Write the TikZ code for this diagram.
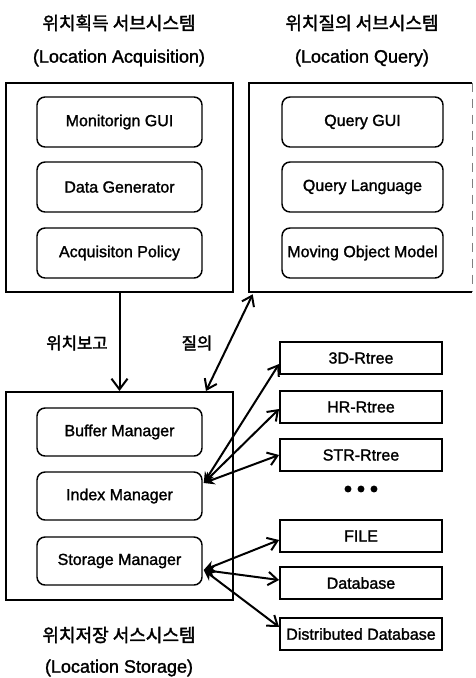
\documentclass[tikz,border=0pt]{standalone}
\usepackage{fontspec}
\setmainfont{Liberation Sans}[FakeBold=1.5]
\newfontfamily\kr{Noto Sans CJK KR}[FakeBold=2]
\usetikzlibrary{arrows.meta,calc}

\begin{document}
\begin{tikzpicture}[x=0.75pt,y=-0.75pt,
  title/.style={font=\fontsize{13.5}{16}\selectfont, inner sep=0pt},
  krtitle/.style={font=\kr\fontsize{13.5}{16}\selectfont, inner sep=0pt},
  krlabel/.style={font=\kr\fontsize{12.5}{15}\selectfont, inner sep=0pt},
  subsys/.style={draw, line width=1.5pt, minimum width=170.25pt, inner sep=0pt},
  module/.style={draw, line width=1.1pt, rounded corners=6pt, minimum width=123.75pt,
    minimum height=37.5pt, inner sep=0pt, font=\fontsize{12}{14}\selectfont},
  store/.style={draw, line width=1.4pt, minimum width=121.5pt, minimum height=24pt,
    inner sep=0pt, font=\fontsize{12}{14}\selectfont},
  flow/.style={line width=1.5pt, -{Straight Barb[length=8pt,width=12pt]}},
  link/.style={line width=1.5pt, {Stealth[length=8pt,width=8pt]}-{Straight Barb[length=7pt,width=10pt]}},
  both/.style={line width=1.5pt, {Straight Barb[length=7pt,width=10pt]}-{Straight Barb[length=7pt,width=10pt]}}]

\useasboundingbox (0,0) rectangle (475,678);

% subsystem titles
\node[krtitle] (acqKo) at (119,23) {위치획득 서브시스템};
\node[title]   (acqEn) at (119,58) {(Location Acquisition)};
\node[krtitle] (qryKo) at (362,23) {위치질의 서브시스템};
\node[title]   (qryEn) at (362,58) {(Location Query)};

% location acquisition subsystem
\node[subsys, minimum height=156.75pt] (A) at (119.5,187.5) {};
\node[module] (A1) at (119.5,122) {Monitorign GUI};
\node[module] (A2) at (119.5,187) {Data Generator};
\node[module] (A3) at (119.5,253) {Acquisiton Policy};

% location query subsystem (right side faded)
\node[minimum width=167.25pt, minimum height=156.75pt, inner sep=0pt] (Q) at (360.5,187.5) {};
\draw[line width=1.5pt] (Q.north east) -- (Q.north west) -- (Q.south west) -- (Q.south east);
\draw[line width=0.7pt, gray, dash pattern=on 7pt off 5pt] (Q.north east) -- (Q.south east);
\node[module, minimum width=120.75pt] (Q1) at (362.5,122) {Query GUI};
\node[module, minimum width=120.75pt] (Q2) at (362.5,187) {Query Language};
\node[module, minimum width=120.75pt] (Q3) at (362.5,253) {Moving Object Model};

% location storage subsystem
\node[subsys, minimum height=156pt] (S) at (119.5,496) {};
\node[module, minimum height=36pt] (S1) at (119.5,432) {Buffer Manager};
\node[module, minimum height=36pt] (S2) at (119.5,496) {Index Manager};
\node[module, minimum height=36pt] (S3) at (119.5,561) {Storage Manager};
\node[krtitle] (stoKo) at (119,635) {위치저장 서스시스템};
\node[title]   (stoEn) at (119,668) {(Location Storage)};

% index structures and storage back ends
\node[store] (R1) at (361,358) {3D-Rtree};
\node[store] (R2) at (361,407) {HR-Rtree};
\node[store] (R3) at (361,455) {STR-Rtree};
\node[store] (B1) at (361,536) {FILE};
\node[store] (B2) at (361,583) {Database};
\node[store] (B3) at (361,634) {Distributed Database};
\foreach \dx in {-13,0,13} \fill (361+\dx,489) circle (2.6pt);

% connectors
\draw[flow] (A.south) -- (S.north);
\node[krlabel] (lblReport) at (77,343) {위치보고};
\node[krlabel] (lblQuery) at (197,343) {질의};

\coordinate (qLow) at ($(S.north east)+(-28,0)$);
\coordinate (qHigh) at ($(Q.south west)+(4,2)$);
\draw[both] (qLow) -- (qHigh);

\coordinate (idx) at ($(S2.east)+(1,-13)$);
\draw[link] (idx) -- ($(R1.west)+(0,6)$);
\draw[link] (idx) -- ($(R2.west)+(0,2)$);
\draw[link] (idx) -- (R3.west);

\coordinate (sto) at ($(S3.east)+(1,9)$);
\draw[link] (sto) -- ($(B1.west)+(0,4)$);
\draw[link] (sto) -- ($(B2.west)+(0,-3)$);
\draw[link] (sto) -- ($(B3.west)+(0,-7)$);
\end{tikzpicture}
\end{document}
